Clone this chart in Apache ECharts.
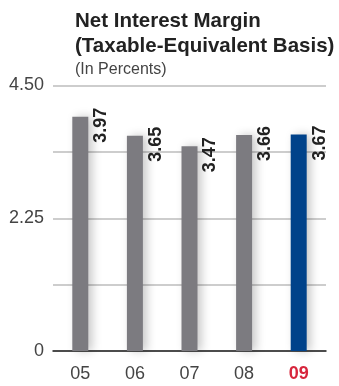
<!DOCTYPE html>
<html lang="en">
<head>
    <meta charset="UTF-8">
    <title>Net Interest Margin</title>
</head>
<body style="margin:0;background:#fff;">
<div id="main" style="width: 339px;height:386px;"></div>
<script type="text/javascript" src="https://cdn.jsdelivr.net/npm/echarts@6/dist/echarts.min.js"></script>
<script type="text/javascript">
    var years = ['05', '06', '07', '08', '09'];
    var margins = [3.97, 3.65, 3.47, 3.66, 3.67];
    var tickValues = [0, 2.25, 4.5];
    var tickLabels = ['0', '2.25', '4.50'];

    var font = 'Liberation Sans, Arial, Helvetica, sans-serif';
    var myChart = echarts.init(document.getElementById('main'));

    var option = {
        animation: false,
        title: {
            text: 'Net Interest Margin\n(Taxable-Equivalent Basis)',
            subtext: '(In Percents)',
            left: 70,
            top: 4,
            itemGap: 3,
            textStyle: {fontFamily: font, fontSize: 20.5, fontWeight: 'bold', color: '#222', lineHeight: 25},
            subtextStyle: {fontFamily: font, fontSize: 16, color: '#444'}
        },
        grid: {left: 53, right: 13, top: 85.5, bottom: 35},
        xAxis: {
            type: 'category',
            data: years,
            axisLine: {lineStyle: {color: '#222', width: 1.5}},
            axisTick: {show: false},
            axisLabel: {
                interval: 0,
                fontFamily: font, fontSize: 18, color: '#444', margin: 14,
                formatter: function (v, i) {
                    return i === years.length - 1 ? '{hl|' + v + '}' : v;
                },
                rich: {hl: {fontFamily: font, fontSize: 18, fontWeight: 'bold', color: '#d7263d'}}
            }
        },
        yAxis: {
            type: 'value',
            min: 0,
            max: 4.5,
            interval: 1.125,
            axisLine: {show: false},
            axisTick: {show: false},
            splitLine: {lineStyle: {color: '#bdbdbd', width: 1.5}},
            axisLabel: {
                fontFamily: font, fontSize: 18, color: '#444', margin: 9,
                formatter: function (v) {
                    var k = tickValues.indexOf(v);
                    return k >= 0 ? tickLabels[k] : '';
                }
            }
        },
        series: [{
            type: 'bar',
            barWidth: 16,
            data: margins.map(function (v, i) {
                return {
                    value: v,
                    itemStyle: {color: i === margins.length - 1 ? '#00428a' : '#7c7b80'}
                };
            }),
            itemStyle: {
                shadowBlur: 10,
                shadowColor: 'rgba(0,0,0,0.22)',
                shadowOffsetX: 4
            },
            label: {
                show: true,
                position: [20, -9],
                rotate: 90,
                align: 'right',
                verticalAlign: 'top',
                fontFamily: font,
                fontSize: 18,
                fontWeight: 'bold',
                color: '#222',
                formatter: function (p) { return p.value.toFixed(2); }
            }
        }]
    };
    myChart.setOption(option);
</script>
</body>
</html>
